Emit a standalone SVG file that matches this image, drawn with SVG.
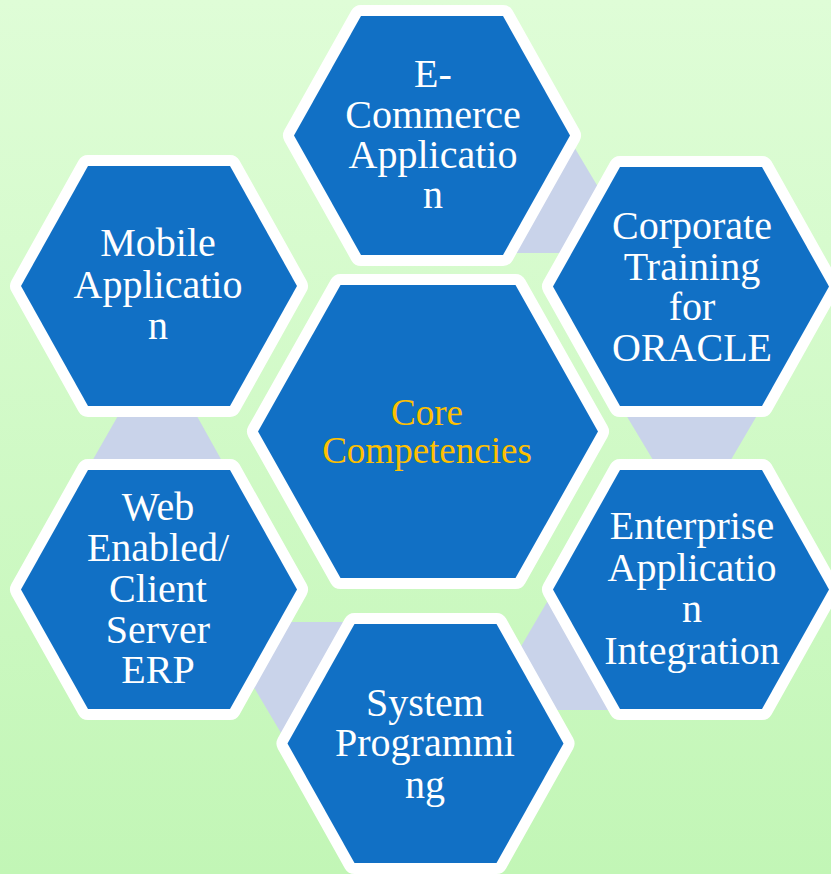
<svg xmlns="http://www.w3.org/2000/svg" width="831" height="874" viewBox="0 0 831 874">
<defs>
<linearGradient id="bg" x1="0" y1="0" x2="0" y2="1">
<stop offset="0" stop-color="#DFFDD7"/>
<stop offset="1" stop-color="#C2F6B6"/>
</linearGradient>
</defs>
<style>
.hex{fill:#1170C5;stroke:#FFFFFF;stroke-width:22;stroke-linejoin:round;paint-order:stroke}
.con{fill:#C9D3EA;stroke:none}
.t{font-family:"Liberation Serif","Times New Roman",serif;font-size:40px;fill:#FFFFFF;text-anchor:middle}
.core{font-size:37px;fill:#FFC000}
</style>
<rect x="0" y="0" width="831" height="874" fill="url(#bg)"/>
<g id="connectors">
<polygon class="con" points="500,140 570,140 616,217 616,253 500,253"/>
<polygon class="con" points="617,400 766,400 725,470 659,470"/>
<polygon class="con" points="554,590 625,590 625,710 530,710 505,674"/>
<polygon class="con" points="270,622 360,622 360,700 300,740 284,738 240,664"/>
<polygon class="con" points="127,400 188,400 227,470 87,470"/>
</g>
<g id="ecommerce">
<polygon class="hex" points="294,135.5 361,16 503,16 570,135.5 503,255 361,255"/>
<text class="t" x="433" y="87">E-</text>
<text class="t" x="433" y="128">Commerce</text>
<text class="t" x="433" y="168">Applicatio</text>
<text class="t" x="433" y="208">n</text>
</g>
<g id="corporate">
<polygon class="hex" points="553,286.5 620,167 762,167 829,286.5 762,406 620,406"/>
<text class="t" x="692" y="239">Corporate</text>
<text class="t" x="692" y="280">Training</text>
<text class="t" x="692" y="320">for</text>
<text class="t" x="692" y="361">ORACLE</text>
</g>
<g id="enterprise">
<polygon class="hex" points="553,589.5 620,470 762,470 829,589.5 762,709 620,709"/>
<text class="t" x="692" y="539">Enterprise</text>
<text class="t" x="692" y="581">Applicatio</text>
<text class="t" x="692" y="622">n</text>
<text class="t" x="692" y="664">Integration</text>
</g>
<g id="system">
<polygon class="hex" points="287.5,743.5 354.5,624 496.5,624 563.5,743.5 496.5,863 354.5,863"/>
<text class="t" x="425" y="716">System</text>
<text class="t" x="425" y="756">Programmi</text>
<text class="t" x="425" y="798">ng</text>
</g>
<g id="webenabled">
<polygon class="hex" points="21,589.5 88,470 230,470 297,589.5 230,709 88,709"/>
<text class="t" x="158" y="520">Web</text>
<text class="t" x="158" y="561">Enabled/</text>
<text class="t" x="158" y="602">Client</text>
<text class="t" x="158" y="643">Server</text>
<text class="t" x="158" y="683">ERP</text>
</g>
<g id="mobile">
<polygon class="hex" points="21,286 88,166 230,166 297,286 230,406 88,406"/>
<text class="t" x="158" y="256">Mobile</text>
<text class="t" x="158" y="298">Applicatio</text>
<text class="t" x="158" y="339">n</text>
</g>
<g id="core">
<polygon class="hex" points="258,431.5 340.5,285 515.5,285 598,431.5 515.5,578 340.5,578"/>
<text class="t core" x="427" y="425">Core</text>
<text class="t core" x="427" y="463">Competencies</text>
</g>
</svg>
